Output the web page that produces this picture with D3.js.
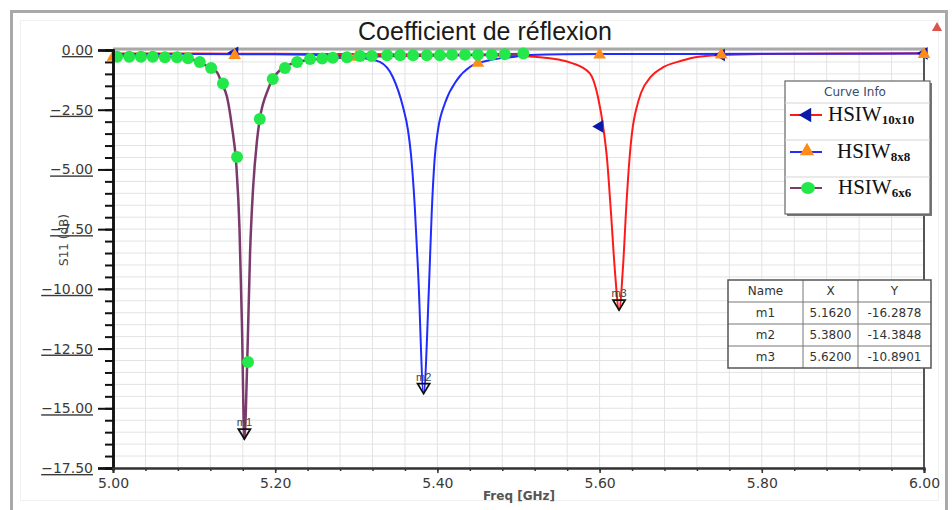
<!DOCTYPE html>
<html>
<head>
<meta charset="utf-8">
<script src="https://cdn.jsdelivr.net/npm/d3@7"></script>
<style>
  body { margin: 0; background: #fff; }
  svg { display: block; font-family: Arial, "Liberation Sans", sans-serif; }
  .grid line { stroke: #e3e3e3; stroke-width: 1; }
  .yax text { font-family: "DejaVu Sans", sans-serif; font-size: 14px; fill: #3a3a3a; text-decoration: underline; }
  .xax text { font-family: "DejaVu Sans", sans-serif; font-size: 14px; fill: #3a3a3a; }
  .yax path, .yax line { stroke: #111; }
  .xax path, .xax line { stroke: #333; }
</style>
</head>
<body>
<div id="chart"></div>
<script>
// axis ticks
const freqTicks = [5.00, 5.20, 5.40, 5.60, 5.80, 6.00];
const dbTicks = [0, -2.5, -5, -7.5, -10, -12.5, -15, -17.5];

// S11 curves, [freq GHz, dB]
const hsiw10 = [[5.00,-0.15],[5.10,-0.15],[5.20,-0.16],[5.30,-0.17],[5.40,-0.19],[5.47,-0.23],[5.5265,-0.3],
  [5.567,-0.56],[5.588,-0.98],[5.598,-1.97],[5.605,-3.35],[5.609,-4.5],[5.614,-6.8],[5.619,-9.3],[5.624,-10.89],
  [5.629,-9.0],[5.633,-6.5],[5.637,-4.5],[5.641,-3.2],[5.645,-2.5],[5.651,-1.8],[5.663,-1.13],[5.679,-0.71],
  [5.70,-0.46],[5.72,-0.29],[5.752,-0.21],[5.80,-0.17],[5.90,-0.15],[6.00,-0.14]];
const hsiw8 = [[5.00,-0.17],[5.10,-0.17],[5.20,-0.18],[5.28,-0.25],[5.31,-0.35],[5.329,-0.5],[5.345,-1.13],
  [5.3576,-2.39],[5.3637,-3.35],[5.3675,-4.4],[5.372,-6.5],[5.3765,-9.5],[5.383,-14.38],[5.3895,-10.0],
  [5.393,-6.8],[5.3965,-4.6],[5.4007,-3.35],[5.4094,-2.22],[5.424,-1.26],[5.44,-0.71],[5.465,-0.42],
  [5.493,-0.29],[5.514,-0.21],[5.60,-0.17],[5.80,-0.16],[6.00,-0.15]];
const hsiw6 = [[5.00,-0.24],[5.05,-0.26],[5.08,-0.31],[5.10,-0.42],[5.115,-0.65],[5.128,-0.92],[5.134,-1.38],
  [5.1406,-1.97],[5.1467,-3.22],[5.152,-4.8],[5.156,-7.5],[5.159,-11.5],[5.162,-16.29],[5.1655,-13.06],
  [5.169,-8.5],[5.1726,-5.86],[5.1776,-3.77],[5.181,-2.89],[5.191,-1.67],[5.197,-1.21],[5.206,-0.84],
  [5.22,-0.58],[5.24,-0.42],[5.27,-0.34],[5.30,-0.29],[5.35,-0.25],[5.40,-0.23],[5.45,-0.2],[5.506,-0.17]];

// symbols shown on each curve
const hsiw10Marks = [[5.15,-0.12],[5.60,-3.2],[5.75,-0.21],[6.00,-0.14]];
const hsiw8Marks = [[5.00,-0.3],[5.15,-0.22],[5.30,-0.3],[5.45,-0.55],[5.60,-0.2],[5.75,-0.2],[6.00,-0.18]];
const hsiw6Marks = [[5.005,-0.28],[5.020,-0.28],[5.0345,-0.28],[5.049,-0.28],[5.064,-0.3],[5.079,-0.3],
  [5.0925,-0.35],[5.107,-0.5],[5.121,-0.75],[5.1356,-1.4],[5.153,-4.48],[5.1665,-13.06],[5.181,-2.89],
  [5.197,-1.21],[5.212,-0.75],[5.227,-0.5],[5.243,-0.38],[5.258,-0.36],[5.271,-0.32],[5.2885,-0.3],
  [5.3046,-0.25],[5.319,-0.25],[5.338,-0.22],[5.354,-0.22],[5.370,-0.22],[5.387,-0.22],[5.403,-0.22],
  [5.418,-0.2],[5.434,-0.2],[5.450,-0.2],[5.467,-0.2],[5.483,-0.18],[5.506,-0.15]];

// marker table
const mNames = ["m1", "m2", "m3"];
const mFreq = [5.162, 5.383, 5.624];
const mDb = [-16.2878, -14.3848, -10.8901];
const mXText = ["5.1620", "5.3800", "5.6200"];
const mYText = ["-16.2878", "-14.3848", "-10.8901"];

const legendNames = ["HSIW", "HSIW", "HSIW"];
const legendSubs = ["10x10", "8x8", "6x6"];

const W = 952, H = 510;
const svg = d3.select("#chart").append("svg").attr("width", W).attr("height", H);

// frame
svg.append("rect").attr("x", 11.5).attr("y", 11.5).attr("width", 935).attr("height", 505)
  .attr("fill", "#fff").attr("stroke", "#a9a9a9").attr("stroke-width", 3);
svg.append("rect").attr("x", 20.5).attr("y", 20.5).attr("width", 918).attr("height", 480)
  .attr("fill", "none").attr("stroke", "#f0f0f0").attr("stroke-width", 1);

const x = d3.scaleLinear().domain([5, 6]).range([113, 924]);
const y = d3.scaleLinear().domain([0, -17.5]).range([50, 468]);

// grid
const grid = svg.append("g").attr("class", "grid");
grid.selectAll(".v").data(d3.range(0, 26)).enter().append("line")
  .attr("x1", d => x(5 + d * 0.04)).attr("x2", d => x(5 + d * 0.04))
  .attr("y1", y(0)).attr("y2", y(-17.5));
grid.selectAll(".h").data(d3.range(0, 36)).enter().append("line")
  .attr("x1", x(5)).attr("x2", x(6))
  .attr("y1", d => y(-d * 0.5)).attr("y2", d => y(-d * 0.5));

// plot border top / right
svg.append("line").attr("x1", x(5)).attr("x2", x(6) + 2).attr("y1", 49).attr("y2", 49)
  .attr("stroke", "#a8a8a8").attr("stroke-width", 3);
svg.append("line").attr("x1", x(6)).attr("x2", x(6)).attr("y1", 49).attr("y2", y(-17.5))
  .attr("stroke", "#555").attr("stroke-width", 2);

// curves
const line = d3.line().x(d => x(d[0])).y(d => y(d[1])).curve(d3.curveMonotoneX);
svg.append("path").datum(hsiw10).attr("d", line).attr("fill", "none")
  .attr("stroke", "#ff1a1a").attr("stroke-width", 2);
svg.append("path").datum(hsiw8).attr("d", line).attr("fill", "none")
  .attr("stroke", "#1f2bff").attr("stroke-width", 2);
svg.append("path").datum(hsiw6).attr("d", line).attr("fill", "none")
  .attr("stroke", "#7a3a6c").attr("stroke-width", 2.5);

// curve symbols
const tri = d3.symbol().type(d3.symbolTriangle).size(70);
svg.selectAll(".m10").data(hsiw10Marks).enter().append("path")
  .attr("d", tri).attr("fill", "#0c1aa8")
  .attr("transform", d => `translate(${x(d[0])},${y(d[1])}) rotate(-90)`);
svg.selectAll(".m8").data(hsiw8Marks).enter().append("path")
  .attr("d", tri).attr("fill", "#ff8c1a")
  .attr("transform", d => `translate(${x(d[0])},${y(d[1])})`);
svg.selectAll(".m6").data(hsiw6Marks).enter().append("circle")
  .attr("cx", d => x(d[0])).attr("cy", d => y(d[1])).attr("r", 6)
  .attr("fill", "#22e84a");

// marker triangles m1..m3
const mk = svg.append("g");
mNames.forEach((n, i) => {
  const px = x(mFreq[i]), py = y(mDb[i]);
  mk.append("path")
    .attr("d", `M${px},${py} L${px - 6},${py - 10} L${px + 6},${py - 10} Z`)
    .attr("fill", "none").attr("stroke", "#111").attr("stroke-width", 1.8);
  mk.append("text").attr("x", px).attr("y", py - 13).attr("text-anchor", "middle")
    .attr("font-size", 11).attr("fill", "#444").text(n);
});

// axes
const yAxis = svg.append("g").attr("class", "yax").attr("transform", `translate(${x(5)},0)`);
yAxis.call(d3.axisLeft(y).tickValues(d3.range(0, 36).map(d => -d * 0.5)).tickSize(8).tickFormat(""));
yAxis.append("g").call(d3.axisLeft(y).tickValues(dbTicks).tickSize(15).tickPadding(5)
  .tickFormat(d3.format(".2f")));
yAxis.selectAll("path.domain").attr("stroke-width", 2.5);
yAxis.selectAll("line").attr("stroke-width", 2);

const xAxis = svg.append("g").attr("class", "xax").attr("transform", `translate(0,${y(-17.5)})`);
xAxis.call(d3.axisBottom(x).tickValues(d3.range(0, 26).map(d => 5 + d * 0.04)).tickSize(3).tickFormat(""));
xAxis.append("g").call(d3.axisBottom(x).tickValues(freqTicks).tickSize(5).tickPadding(5)
  .tickFormat(d3.format(".2f")));
xAxis.selectAll("path.domain").attr("stroke-width", 2);
xAxis.selectAll("line").attr("stroke-width", 1.5);

// titles
svg.append("text").attr("x", 485).attr("y", 40).attr("text-anchor", "middle")
  .attr("font-size", 25).attr("fill", "#1a1a1a").text("Coefficient de réflexion");
svg.append("text").attr("x", 519).attr("y", 500).attr("text-anchor", "middle")
  .attr("font-family", "'DejaVu Sans', sans-serif")
  .attr("font-size", 12).attr("font-weight", "bold").attr("fill", "#555").text("Freq [GHz]");
svg.append("text").attr("transform", "translate(68,240) rotate(-90)").attr("text-anchor", "middle")
  .attr("font-family", "'DejaVu Sans', sans-serif")
  .attr("font-size", 12).attr("fill", "#444").text("S11 (dB)");

// little corner triangle
svg.append("path").attr("d", d3.symbol().type(d3.symbolTriangle).size(45))
  .attr("transform", "translate(937,28)").attr("fill", "#d9534f");

// legend
const lg = svg.append("g").attr("transform", "translate(785,81)");
lg.append("rect").attr("x", 2).attr("y", 2).attr("width", 145).attr("height", 133).attr("fill", "#777");
lg.append("rect").attr("width", 145).attr("height", 133).attr("fill", "#fff").attr("stroke", "#666").attr("stroke-width", 1.2);
lg.append("text").attr("x", 70).attr("y", 15).attr("text-anchor", "middle").attr("font-size", 12)
  .attr("font-family", "'DejaVu Sans', sans-serif").attr("fill", "#3a4a6a").text("Curve Info");
[22, 59, 96].forEach(v => lg.append("line").attr("x1", 0).attr("x2", 145).attr("y1", v).attr("y2", v)
  .attr("stroke", "#d5d5d5"));
const rowsY = [34, 71, 107];
const rowCol = [["#ff1a1a", "#0c1aa8"], ["#1f2bff", "#ff8c1a"], ["#7a3a6c", "#22e84a"]];
const textX = [43, 52, 53];
rowsY.forEach((ry, i) => {
  lg.append("line").attr("x1", 5).attr("x2", 37).attr("y1", ry).attr("y2", ry)
    .attr("stroke", rowCol[i][0]).attr("stroke-width", 2);
  if (i === 0) {
    lg.append("path").attr("d", d3.symbol().type(d3.symbolTriangle).size(90))
      .attr("transform", `translate(22,${ry}) rotate(-90)`).attr("fill", rowCol[i][1]);
  } else if (i === 1) {
    lg.append("path").attr("d", d3.symbol().type(d3.symbolTriangle).size(90))
      .attr("transform", `translate(22,${ry - 1})`).attr("fill", rowCol[i][1]);
  } else {
    lg.append("ellipse").attr("cx", 23).attr("cy", ry).attr("rx", 7).attr("ry", 6).attr("fill", rowCol[i][1]);
  }
  const t = lg.append("text").attr("x", textX[i]).attr("y", ry + 6)
    .attr("font-family", "'Liberation Serif', 'Times New Roman', serif").attr("font-size", 21).attr("fill", "#111");
  t.append("tspan").text(legendNames[i]);
  t.append("tspan").attr("dy", 3).attr("font-size", 13).attr("font-weight", "bold").text(legendSubs[i]);
});

// marker table
const tb = svg.append("g").attr("transform", "translate(728,280)");
const colX = [0, 75, 130, 203];
const rowH = 22;
const cells = [["Name", "X", "Y"]].concat(mNames.map((n, i) => [n, mXText[i], mYText[i]]));
tb.append("rect").attr("width", colX[3]).attr("height", rowH * 4).attr("fill", "#fff");
cells.forEach((row, r) => {
  row.forEach((c, k) => {
    tb.append("text").attr("x", (colX[k] + colX[k + 1]) / 2).attr("y", r * rowH + 15)
      .attr("text-anchor", "middle").attr("font-size", 12)
      .attr("font-family", "'DejaVu Sans', sans-serif").attr("fill", "#333").text(c);
  });
  if (r > 0) tb.append("line").attr("x1", 0).attr("x2", colX[3]).attr("y1", r * rowH).attr("y2", r * rowH)
    .attr("stroke", "#777");
});
[1, 2].forEach(k => tb.append("line").attr("x1", colX[k]).attr("x2", colX[k]).attr("y1", 0).attr("y2", rowH * 4)
  .attr("stroke", "#777"));
tb.append("rect").attr("width", colX[3]).attr("height", rowH * 4).attr("fill", "none")
  .attr("stroke", "#555").attr("stroke-width", 1.5);
</script>
</body>
</html>
